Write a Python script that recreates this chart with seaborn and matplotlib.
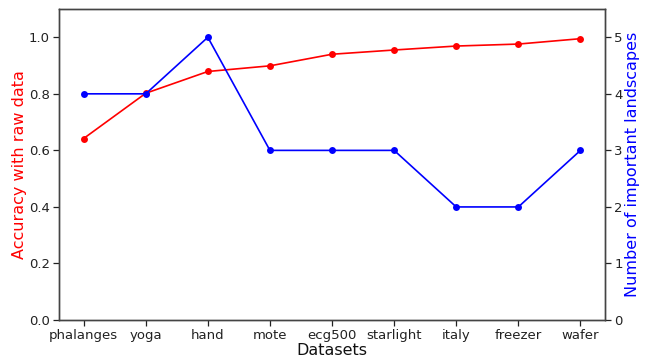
import numpy as np
import pandas as pd
import matplotlib
matplotlib.use("Agg")
import matplotlib.pyplot as plt
import seaborn as sns

datasets = ["phalanges", "yoga", "hand", "mote", "ecg500",
            "starlight", "italy", "freezer", "wafer"]
accuracy = [0.642, 0.802, 0.879, 0.899, 0.940, 0.955, 0.969, 0.976, 0.995]
n_landscapes = [4, 4, 5, 3, 3, 3, 2, 2, 3]

sns.set_theme(style="ticks")
plt.rcParams["font.family"] = ["DejaVu Sans"]

df = pd.DataFrame({"pos": np.arange(len(datasets)),
                   "Dataset": datasets,
                   "Accuracy": accuracy,
                   "Landscapes": n_landscapes})

fig, ax = plt.subplots(figsize=(6.46, 3.6), dpi=100)
fig.subplots_adjust(left=0.091, right=0.937, top=0.975, bottom=0.111)
ax2 = ax.twinx()

sns.lineplot(data=df, x="pos", y="Accuracy", ax=ax, color="red",
             marker="o", markersize=5, markeredgewidth=0, linewidth=1.2)
sns.lineplot(data=df, x="pos", y="Landscapes", ax=ax2, color="blue",
             marker="o", markersize=5, markeredgewidth=0, linewidth=1.2)

ax.set_xlim(-0.4, len(datasets) - 0.6)
ax.set_ylim(0, 1.1)
ax2.set_ylim(0, 5.5)
ax.set_yticks([0.0, 0.2, 0.4, 0.6, 0.8, 1.0])
ax2.set_yticks([0, 1, 2, 3, 4, 5])
ax.set_xticks(df["pos"])
ax.set_xticklabels(datasets)

ax.set_xlabel("Datasets", fontsize=11.5, color="#111111", labelpad=1)
ax.set_ylabel("Accuracy with raw data", fontsize=11.5, color="red", labelpad=1)
ax2.set_ylabel("Number of important landscapes", fontsize=11.5,
               color="blue", labelpad=1.5)

for a in (ax, ax2):
    a.tick_params(axis="both", labelsize=9.5, colors="#222222",
                  length=4, width=0.9, pad=2.5)
    for s in a.spines.values():
        s.set_visible(True)
        s.set_color("#444444")
        s.set_linewidth(1.0)

fig.savefig("out.png", dpi=100)
